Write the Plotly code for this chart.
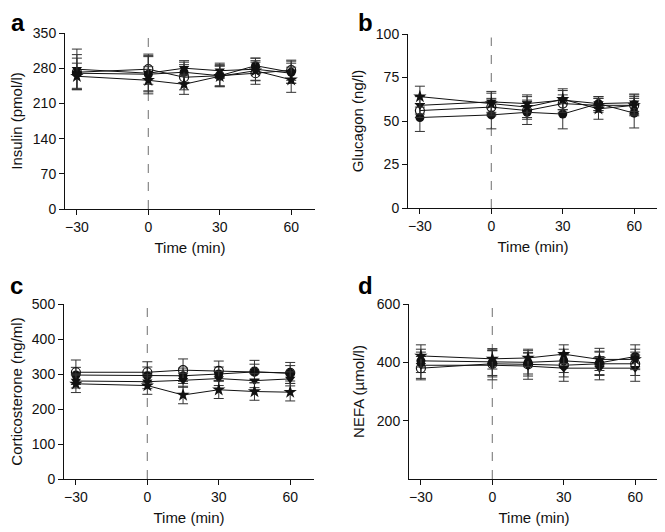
import plotly.graph_objects as go

time = [-30, 0, 15, 30, 45, 60]
series_names = ["filled circle", "open circle", "triangle", "star"]

# Panel a: Insulin (pmol/l)
ins_fc = [270, 268, 272, 265, 285, 272]
ins_oc = [272, 278, 262, 265, 270, 276]
ins_tr = [278, 270, 280, 275, 278, 270]
ins_st = [264, 256, 248, 264, 275, 257]
ins_fc_e = [30, 35, 20, 22, 15, 22]
ins_oc_e = [35, 30, 25, 20, 22, 20]
ins_tr_e = [40, 35, 15, 15, 22, 20]
ins_st_e = [26, 27, 20, 20, 20, 25]

# Panel b: Glucagon (ng/l)
glu_fc = [52, 53.5, 55, 54, 60, 54.5]
glu_oc = [56, 58, 56, 60, 59, 59]
glu_tr = [59, 61, 60, 62, 60, 60.5]
glu_st = [64, 60, 58, 62.5, 57, 59]
glu_fc_e = [8, 8, 7, 8.5, 4, 8.5]
glu_oc_e = [4, 5, 5, 5, 4, 5]
glu_tr_e = [5, 6, 5, 5.5, 4, 5]
glu_st_e = [6, 6, 6, 6, 6, 6]

# Panel c: Corticosterone (ng/ml)
cor_fc = [297, 295, 295, 300, 306, 302]
cor_oc = [305, 305, 311, 309, 307, 303]
cor_tr = [280, 278, 282, 287, 281, 286]
cor_st = [272, 267, 240, 255, 250, 248]
cor_fc_e = [22, 25, 22, 20, 22, 22]
cor_oc_e = [35, 30, 32, 28, 32, 30]
cor_tr_e = [20, 20, 20, 20, 20, 20]
cor_st_e = [25, 25, 25, 25, 25, 25]

# Panel d: NEFA (umol/l)
nef_fc = [405, 400, 400, 405, 398, 420]
nef_oc = [380, 395, 393, 390, 395, 395]
nef_tr = [390, 390, 387, 380, 380, 380]
nef_st = [422, 412, 415, 428, 410, 410]
nef_fc_e = [40, 45, 40, 40, 40, 40]
nef_oc_e = [40, 45, 40, 40, 40, 40]
nef_tr_e = [45, 50, 45, 45, 40, 45]
nef_st_e = [38, 35, 30, 32, 38, 35]

symbols = ["circle", "circle-open", "triangle-down", "star"]

# letter positions: (x centre, top of text box) in page pixels
panels = [
    dict(vals=[ins_fc, ins_oc, ins_tr, ins_st], errs=[ins_fc_e, ins_oc_e, ins_tr_e, ins_st_e],
         title="Insulin (pmol/l)", rng=[0, 350], ticks=[0, 70, 140, 210, 280, 350],
         xdom=[65, 315], ydom=[33, 209], letter="a", lpos=(18, 8)),
    dict(vals=[glu_fc, glu_oc, glu_tr, glu_st], errs=[glu_fc_e, glu_oc_e, glu_tr_e, glu_st_e],
         title="Glucagon (ng/l)", rng=[0, 100], ticks=[0, 25, 50, 75, 100],
         xdom=[408, 658], ydom=[34, 208], letter="b", lpos=(365, 8)),
    dict(vals=[cor_fc, cor_oc, cor_tr, cor_st], errs=[cor_fc_e, cor_oc_e, cor_tr_e, cor_st_e],
         title="Corticosterone (ng/ml)", rng=[0, 500], ticks=[0, 100, 200, 300, 400, 500],
         xdom=[64, 314], ydom=[304, 479], letter="c", lpos=(16, 271)),
    dict(vals=[nef_fc, nef_oc, nef_tr, nef_st], errs=[nef_fc_e, nef_oc_e, nef_tr_e, nef_st_e],
         title="NEFA (\u00b5mol/l)", rng=[0, 600], ticks=[200, 400, 600],
         xdom=[409, 659], ydom=[304, 479], letter="d", lpos=(365, 271)),
]

W, H = 665, 532
OFF = 8  # page body margin offset
fig = go.Figure()
shapes = []
annotations = []
font_family = "Liberation Sans, Arial, sans-serif"

for i, p in enumerate(panels):
    n = i + 1
    xa = "x" if n == 1 else f"x{n}"
    ya = "y" if n == 1 else f"y{n}"
    xkey = "xaxis" if n == 1 else f"xaxis{n}"
    ykey = "yaxis" if n == 1 else f"yaxis{n}"
    for j in range(4):
        sym = symbols[j]
        fig.add_trace(go.Scatter(
            x=time, y=p["vals"][j], xaxis=xa, yaxis=ya, mode="lines+markers",
            name=series_names[j], showlegend=False,
            line=dict(color="#111111", width=1),
            marker=dict(symbol=sym, size=9 if sym != "star" else 10, color="#111111",
                        line=dict(color="#111111", width=1.2 if sym == "circle-open" else 0)),
            error_y=dict(type="data", array=p["errs"][j], visible=True,
                         color="#333333", thickness=1, width=5),
        ))
    x0, x1 = p["xdom"][0] - OFF, p["xdom"][1] - OFF
    y0, y1 = p["ydom"][0] - OFF, p["ydom"][1] - OFF
    fig.layout[xkey] = dict(
        domain=[x0 / W, min(x1 / W, 1.0)], range=[-35, 70], anchor=ya,
        tickvals=[-30, 0, 30, 60], ticktext=["\u221230", "0", "30", "60"],
        ticks="outside", ticklen=5, tickcolor="#111111", showline=True, linecolor="#111111",
        linewidth=1, showgrid=False, zeroline=False, automargin=False,
        tickfont=dict(size=14, color="#111111", family=font_family),
        title=dict(text="Time (min)", font=dict(size=15, color="#111111", family=font_family), standoff=8),
    )
    fig.layout[ykey] = dict(
        domain=[1 - y1 / H, 1 - y0 / H], range=p["rng"], anchor=xa,
        tickvals=p["ticks"], ticks="outside", ticklen=5, tickcolor="#111111",
        showline=True, linecolor="#111111", linewidth=1, showgrid=False, zeroline=False,
        automargin=False,
        tickfont=dict(size=14, color="#111111", family=font_family),
        title=dict(text=p["title"], font=dict(size=15, color="#111111", family=font_family), standoff=8),
    )
    shapes.append(dict(type="line", xref=xa, yref=f"{ya} domain", x0=0, x1=0, y0=0, y1=0.98,
                       line=dict(color="#888888", width=1.2, dash="dash"), layer="below"))
    annotations.append(dict(text=f"<b>{p['letter']}</b>", xref="paper", yref="paper",
                            x=(p["lpos"][0] - OFF) / W, y=1 - (p["lpos"][1] - OFF) / H, showarrow=False,
                            xanchor="center", yanchor="top", borderpad=0,
                            font=dict(size=24, color="#000000", family=font_family)))

fig.update_layout(
    width=W, height=H, margin=dict(l=0, r=0, t=0, b=0),
    paper_bgcolor="white", plot_bgcolor="white",
    shapes=shapes, annotations=annotations, showlegend=False,
)

fig.write_html("out.html")
